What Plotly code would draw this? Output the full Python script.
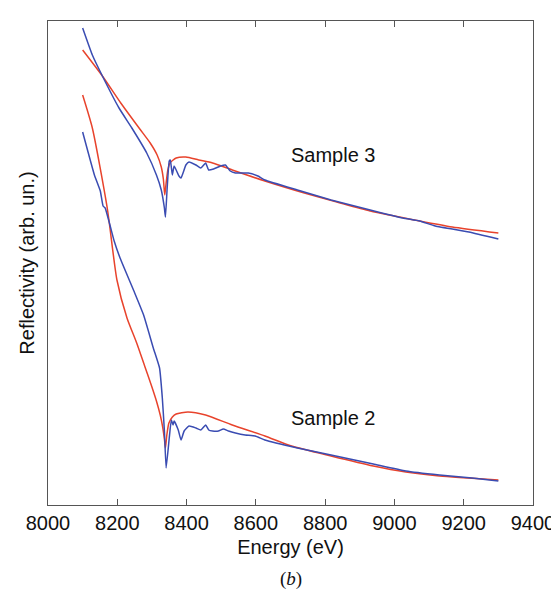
import plotly.graph_objects as go

# Sample 3 - measured (blue)
s3_meas_E = [8100, 8128, 8157, 8205, 8242, 8285, 8313, 8327, 8336, 8339, 8344, 8350, 8353, 8359, 8364,
             8378, 8384, 8398, 8407, 8427, 8441, 8455, 8464, 8478, 8498, 8512, 8526, 8541, 8561,
             8578, 8606, 8626, 8720, 8817, 8930, 9024, 9073, 9118, 9215, 9300]
s3_meas_R = [4.77, 4.50, 4.29, 3.97, 3.77, 3.52, 3.30, 3.15, 2.97, 2.88, 3.17, 3.44, 3.45, 3.30, 3.39,
             3.29, 3.27, 3.40, 3.43, 3.40, 3.37, 3.42, 3.35, 3.36, 3.39, 3.40, 3.34, 3.32, 3.32,
             3.32, 3.29, 3.25, 3.15, 3.05, 2.95, 2.87, 2.84, 2.79, 2.73, 2.66]

# Sample 3 - model (red)
s3_fit_E = [8100, 8157, 8210, 8265, 8295, 8315, 8327, 8333, 8337, 8341, 8346, 8352, 8370, 8398,
            8435, 8475, 8532, 8626, 8740, 8834, 8930, 9073, 9167, 9300]
s3_fit_R = [4.55, 4.29, 4.02, 3.76, 3.62, 3.50, 3.38, 3.26, 3.10, 3.22, 3.35, 3.42, 3.47, 3.48,
            3.45, 3.42, 3.35, 3.24, 3.12, 3.03, 2.94, 2.84, 2.78, 2.72]

# Sample 2 - measured (blue)
s2_meas_E = [8100, 8134, 8151, 8159, 8165, 8191, 8208, 8248, 8276, 8304, 8322, 8330, 8336, 8341,
             8350, 8356, 8361, 8364, 8376, 8384, 8393, 8407, 8427, 8441, 8455, 8464, 8475, 8492,
             8506, 8521, 8541, 8569, 8598, 8626, 8720, 8817, 8939, 9033, 9130, 9224, 9300]
s2_meas_R = [3.73, 3.30, 3.14, 2.99, 2.97, 2.64, 2.47, 2.14, 1.90, 1.57, 1.37, 1.07, 0.74, 0.37,
             0.67, 0.85, 0.80, 0.84, 0.75, 0.65, 0.74, 0.79, 0.77, 0.75, 0.80, 0.75, 0.74, 0.74,
             0.76, 0.74, 0.72, 0.70, 0.69, 0.65, 0.57, 0.50, 0.41, 0.34, 0.30, 0.27, 0.24]

# Sample 2 - model (red)
s2_fit_E = [8100, 8128, 8171, 8199, 8228, 8256, 8279, 8299, 8313, 8324, 8331, 8336, 8339, 8343,
            8349, 8359, 8370, 8404, 8455, 8532, 8626, 8703, 8817, 8939, 9033, 9130, 9300]
s2_fit_R = [4.10, 3.77, 2.97, 2.25, 1.87, 1.62, 1.39, 1.19, 1.04, 0.90, 0.78, 0.66, 0.57, 0.70,
            0.82, 0.88, 0.91, 0.93, 0.90, 0.80, 0.69, 0.59, 0.49, 0.39, 0.33, 0.29, 0.25]

x_ticks = [8000, 8200, 8400, 8600, 8800, 9000, 9200, 9400]
labels = [("Sample 3", 8825, 3.50), ("Sample 2", 8825, 0.87)]

BLUE = "#3a4cb2"
RED = "#e8432c"
FONT = "Liberation Sans, Arial, sans-serif"

fig = go.Figure()
fig.add_trace(go.Scatter(x=s3_fit_E, y=s3_fit_R, mode="lines",
                         line=dict(color=RED, width=1.5, shape="spline", smoothing=0.6)))
fig.add_trace(go.Scatter(x=s3_meas_E, y=s3_meas_R, mode="lines",
                         line=dict(color=BLUE, width=1.5, shape="spline", smoothing=0.4)))
fig.add_trace(go.Scatter(x=s2_fit_E, y=s2_fit_R, mode="lines",
                         line=dict(color=RED, width=1.5, shape="spline", smoothing=0.6)))
fig.add_trace(go.Scatter(x=s2_meas_E, y=s2_meas_R, mode="lines",
                         line=dict(color=BLUE, width=1.5, shape="spline", smoothing=0.4)))

for text, ex, ry in labels:
    fig.add_annotation(x=ex, y=ry, text=text, showarrow=False, xanchor="center",
                       font=dict(family=FONT, size=20, color="#111"))

fig.add_annotation(x=0.5, y=-0.152, xref="paper", yref="paper", text="(<i>b</i>)",
                   showarrow=False, yanchor="middle",
                   font=dict(family="Liberation Serif, Times New Roman, serif",
                             size=19, color="#111"))

fig.update_layout(
    width=559, height=590,
    margin=dict(l=40, r=27, t=13, b=93),
    paper_bgcolor="white", plot_bgcolor="white",
    showlegend=False,
    font=dict(family=FONT, size=20, color="#111"),
)
fig.update_xaxes(range=[8000, 9400], tickvals=x_ticks, ticks="inside", ticklen=6,
                 tickcolor="#555", showline=True, linecolor="#555", linewidth=1.2,
                 mirror="ticks", showgrid=False, zeroline=False,
                 title=dict(text="Energy (eV)", standoff=6, font=dict(size=20)),
                 tickfont=dict(size=20))
fig.update_yaxes(range=[0, 4.84], showticklabels=False, ticks="", showline=True,
                 linecolor="#555", linewidth=1.2, mirror=True, showgrid=False,
                 zeroline=False,
                 title=dict(text="Reflectivity (arb. un.)", standoff=6, font=dict(size=20)))

fig.write_html("out.html")
